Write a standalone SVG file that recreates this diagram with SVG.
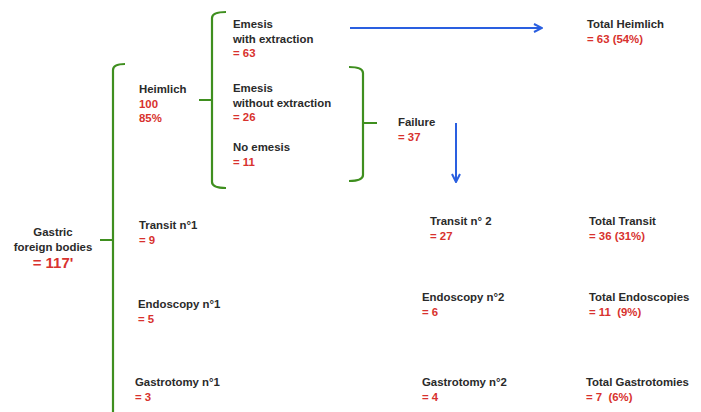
<svg xmlns="http://www.w3.org/2000/svg" width="701" height="412" viewBox="0 0 701 412">
<style>
text{font-family:"Liberation Sans",Arial,sans-serif;font-size:11.4px;font-weight:bold;white-space:pre}
.k{fill:#2a2a2a}
.r{fill:#d8322e}
.br{fill:none;stroke:#3f8f1f;stroke-width:2.2}
.ar{fill:none;stroke:#2a5fe0;stroke-width:2}
</style>
<defs>
<marker id="ah" viewBox="0 0 10 10" refX="9" refY="5" markerWidth="5" markerHeight="5" orient="auto" markerUnits="strokeWidth">
<path d="M1,1 L9,5 L1,9" fill="none" stroke="#2a5fe0" stroke-width="2"/>
</marker>
</defs>
<g id="connectors">
<path class="br" d="M125,64 Q113,64 113,70 V412 M113,240 H100"/>
<path class="br" d="M226,12 Q212,12 212,18 V182 Q212,188 226,188 M212,100 H199"/>
<path class="br" d="M349,67 Q363,67 363,73 V175 Q363,181 349,181 M363,123 H377"/>
<line class="ar" x1="350" y1="28" x2="542" y2="28" marker-end="url(#ah)"/>
<line class="ar" x1="456" y1="123" x2="456" y2="182" marker-end="url(#ah)"/>
</g>
<g id="gastric">
<text class="k" x="53" y="236" text-anchor="middle">Gastric</text>
<text class="k" x="53" y="251" text-anchor="middle">foreign bodies</text>
<text class="r" x="53" y="268" text-anchor="middle" style="font-size:15px">= 117'</text>
</g>
<g id="heimlich">
<text class="k" x="139" y="93">Heimlich</text>
<text class="r" x="139" y="108">100</text>
<text class="r" x="139" y="122">85%</text>
</g>
<g id="emesis-with">
<text class="k" x="233" y="28">Emesis</text>
<text class="k" x="233" y="43">with extraction</text>
<text class="r" x="233" y="57">= 63</text>
</g>
<g id="emesis-without">
<text class="k" x="233" y="92">Emesis</text>
<text class="k" x="233" y="107">without extraction</text>
<text class="r" x="233" y="121">= 26</text>
</g>
<g id="no-emesis">
<text class="k" x="233" y="151">No emesis</text>
<text class="r" x="233" y="166">= 11</text>
</g>
<g id="failure">
<text class="k" x="398" y="126">Failure</text>
<text class="r" x="398" y="141">= 37</text>
</g>
<g id="total-heimlich">
<text class="k" x="587" y="28">Total Heimlich</text>
<text class="r" x="587" y="43">= 63 (54%)</text>
</g>
<g id="transit1">
<text class="k" x="139" y="229">Transit n°1</text>
<text class="r" x="139" y="244">= 9</text>
</g>
<g id="endoscopy1">
<text class="k" x="138" y="308">Endoscopy n°1</text>
<text class="r" x="138" y="323">= 5</text>
</g>
<g id="gastrotomy1">
<text class="k" x="135" y="386">Gastrotomy n°1</text>
<text class="r" x="135" y="401">= 3</text>
</g>
<g id="transit2">
<text class="k" x="430" y="225">Transit n° 2</text>
<text class="r" x="430" y="240">= 27</text>
</g>
<g id="endoscopy2">
<text class="k" x="422" y="301">Endoscopy n°2</text>
<text class="r" x="422" y="316">= 6</text>
</g>
<g id="gastrotomy2">
<text class="k" x="422" y="386">Gastrotomy n°2</text>
<text class="r" x="422" y="401">= 4</text>
</g>
<g id="total-transit">
<text class="k" x="589" y="225">Total Transit</text>
<text class="r" x="589" y="240">= 36 (31%)</text>
</g>
<g id="total-endoscopies">
<text class="k" x="589" y="301">Total Endoscopies</text>
<text class="r" x="589" y="316">= 11  (9%)</text>
</g>
<g id="total-gastrotomies">
<text class="k" x="586" y="386">Total Gastrotomies</text>
<text class="r" x="586" y="401">= 7  (6%)</text>
</g>
</svg>
